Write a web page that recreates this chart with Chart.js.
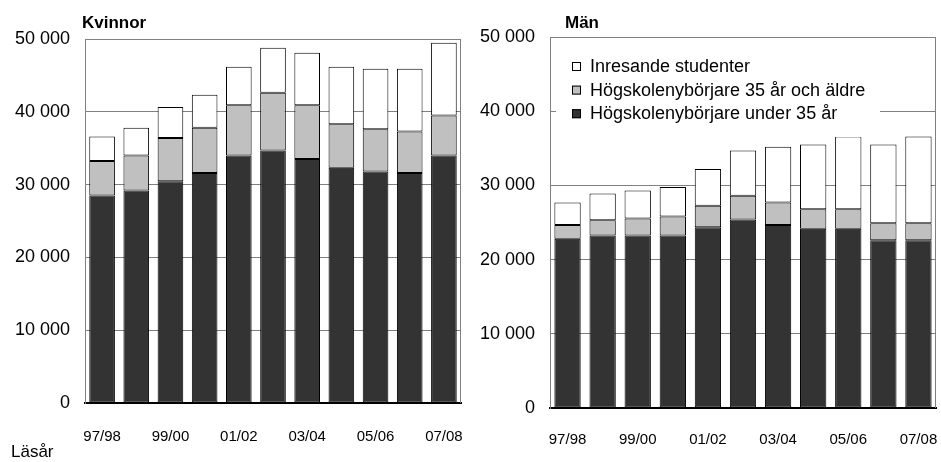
<!DOCTYPE html>
<html>
<head>
<meta charset="utf-8">
<script src="https://cdn.jsdelivr.net/npm/chart.js@4"></script>
<style>
  body { margin: 0; background: #fff; }
  #wrap { position: relative; width: 941px; height: 462px; }
  #left { position: absolute; left: 0; top: 0; }
  #right { position: absolute; left: 470px; top: 0; }
</style>
</head>
<body>
<div id="wrap">
  <canvas id="left" width="470" height="462"></canvas>
  <canvas id="right" width="471" height="462"></canvas>
</div>
<script>
const years = ["97/98", "98/99", "99/00", "00/01", "01/02", "02/03", "03/04", "04/05", "05/06", "06/07", "07/08"];
const yTicks = [0, 10000, 20000, 30000, 40000, 50000];

// Kvinnor
const womenUnder35 = [28500, 29200, 30450, 31600, 34000, 34700, 33500, 32300, 31800, 31600, 34000];
const women35plus = [4750, 4800, 5950, 6200, 6900, 7900, 7400, 6000, 5800, 5700, 5500];
const womenIncoming = [3350, 3800, 4250, 4550, 5300, 6200, 7200, 7900, 8300, 8600, 10000];

// Män
const menUnder35 = [22800, 23250, 23250, 23250, 24350, 25400, 24650, 24150, 24150, 22600, 22600];
const men35plus = [1850, 2050, 2300, 2550, 2900, 3200, 3050, 2650, 2650, 2300, 2300];
const menIncoming = [3050, 3600, 3750, 4000, 4950, 6100, 7500, 8700, 9800, 10600, 11700];

const seriesNames = ["Högskolenybörjare under 35 år", "Högskolenybörjare 35 år och äldre", "Inresande studenter"];
const seriesColors = ["#333333", "#c0c0c0", "#ffffff"];

function fmt(v) {
  return v === 0 ? "0" : (v / 1000) + " 000";
}

// frame, title and (optionally) legend
const extras = {
  id: "extras",
  afterDraw(chart, args, opts) {
    const c = chart.ctx;
    const a = chart.chartArea;
    c.save();
    c.strokeStyle = "#808080";
    c.lineWidth = 1;
    c.beginPath();
    c.moveTo(a.left, a.top + 0.5);
    c.lineTo(a.right - 0.5, a.top + 0.5);
    c.lineTo(a.right - 0.5, a.bottom);
    c.stroke();

    c.fillStyle = "#000";
    c.font = "bold 17px 'Liberation Sans', Arial, sans-serif";
    c.textBaseline = "middle";
    c.textAlign = "left";
    c.fillText(opts.title, opts.titleX, 23);

    if (opts.footer) {
      c.font = "17px 'Liberation Sans', Arial, sans-serif";
      c.fillText(opts.footer, 11, 452);
    }

    if (opts.legend) {
      c.fillStyle = "#fff";
      c.fillRect(a.left + 6, a.top + 14, 324, 86);
      const rows = [2, 1, 0];
      c.font = "18px 'Liberation Sans', Arial, sans-serif";
      rows.forEach((di, i) => {
        const ds = chart.data.datasets[di];
        const y = a.top + 29 + i * 23.6;
        c.fillStyle = ds.backgroundColor;
        c.fillRect(a.left + 22, y - 4, 9, 9);
        c.strokeStyle = "#000";
        c.strokeRect(a.left + 22.5, y - 3.5, 8, 8);
        c.fillStyle = "#000";
        c.fillText(ds.label, a.left + 40, y + 1);
      });
    }
    c.restore();
  }
};

function makeChart(id, data, opts) {
  const datasets = data.map((d, i) => ({
    label: seriesNames[i],
    data: d,
    backgroundColor: seriesColors[i],
    borderColor: "#000",
    borderWidth: 1,
    borderSkipped: false,
    barPercentage: 0.75,
    categoryPercentage: 1
  }));
  return new Chart(document.getElementById(id), {
    type: "bar",
    data: { labels: years, datasets: datasets },
    plugins: [extras],
    options: {
      responsive: false,
      animation: false,
      layout: { autoPadding: false, padding: { top: opts.top, right: opts.right, left: 0, bottom: 0 } },
      plugins: {
        legend: { display: false },
        tooltip: { enabled: false },
        extras: opts.extras
      },
      scales: {
        x: {
          stacked: true,
          grid: { display: false },
          border: { color: "#000", width: 2 },
          afterFit: s => {
            s.height = opts.xHeight;
            s.paddingLeft = 0;
            s.paddingRight = 0;
          },
          ticks: {
            autoSkip: false,
            maxRotation: 0,
            padding: opts.xPad,
            color: "#000",
            font: { family: "'Liberation Sans', Arial, sans-serif", size: 15 },
            callback: (v, i) => (i % 2 === 0 ? years[i] : "")
          }
        },
        y: {
          stacked: true,
          min: 0,
          max: 50000,
          afterBuildTicks: s => { s.ticks = yTicks.map(v => ({ value: v })); },
          afterFit: s => {
            s.width = opts.yWidth;
            s.paddingTop = 0;
            s.paddingBottom = 0;
          },
          grid: { color: "#808080", drawTicks: false },
          border: { color: "#808080" },
          ticks: {
            padding: 15,
            color: "#000",
            font: { family: "'Liberation Sans', Arial, sans-serif", size: 18 },
            callback: v => fmt(v)
          }
        }
      }
    }
  });
}

makeChart("left", [womenUnder35, women35plus, womenIncoming], {
  top: 39, right: 9, yWidth: 85, xHeight: 59, xPad: 17,
  extras: { title: "Kvinnor", titleX: 82, footer: "Läsår" }
});

makeChart("right", [menUnder35, men35plus, menIncoming], {
  top: 37, right: 5, yWidth: 80, xHeight: 54, xPad: 15,
  extras: { title: "Män", titleX: 95, legend: true }
});
</script>
</body>
</html>
